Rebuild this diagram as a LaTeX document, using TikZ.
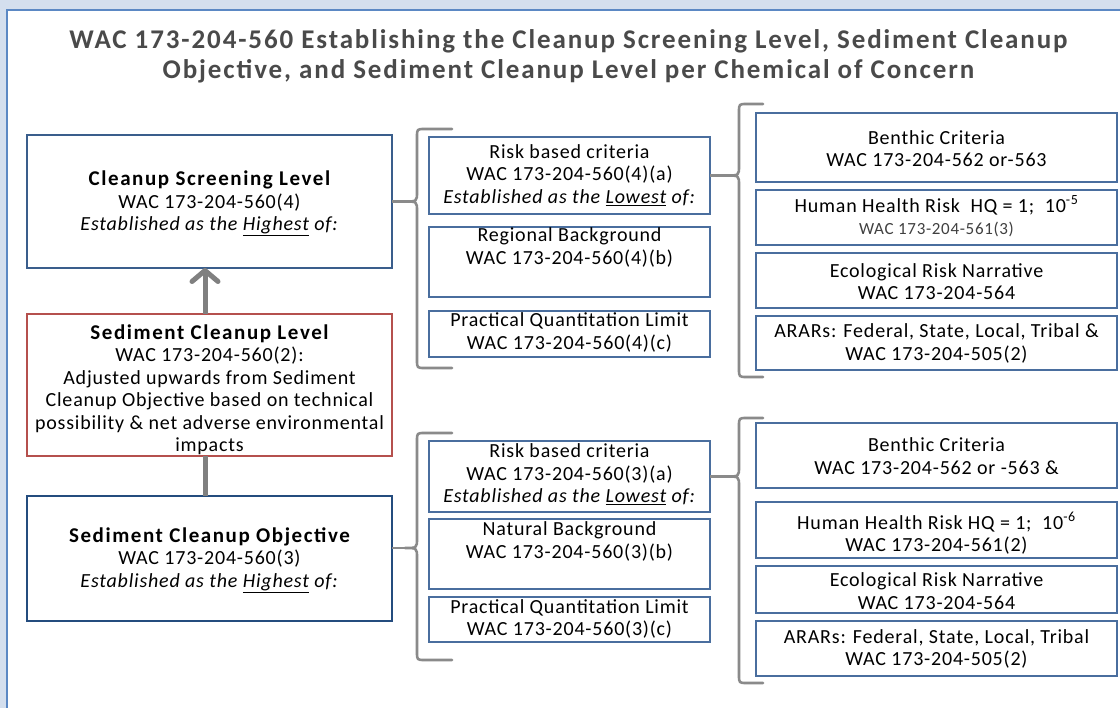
\documentclass[tikz,border=0pt]{standalone}
\usepackage{fontspec}
\setmainfont{Carlito}
\newfontfamily\bodyfont[LetterSpace=4]{Carlito}
\newfontfamily\headfont[LetterSpace=7.5]{Carlito}
\newfontfamily\titlefont[LetterSpace=7]{Carlito}
\usetikzlibrary{arrows.meta}

\definecolor{bgblue}{HTML}{D4DFEE}
\definecolor{panelblue}{HTML}{5B88C4}
\definecolor{titlegray}{HTML}{4A4A4A}
\definecolor{boxblue}{HTML}{4A6E9E}
\definecolor{cslblue}{HTML}{3A5E8C}
\definecolor{scoblue}{HTML}{244C7E}
\definecolor{sclred}{HTML}{B5504D}
\definecolor{conngray}{HTML}{808080}
\definecolor{bracegray}{HTML}{8A8A8A}
\definecolor{subgray}{HTML}{404040}

% left-opening curly bracket: #1 spine x, #2 top y, #3 bottom y, #4 tip y, #5 arm end x, #6 tip name
\newcommand\sidebrace[6]{%
  \coordinate (#6) at ({#1-12},#4);
  \draw[brace] (#5,#2) -- ({#1+8},#2) .. controls (#1,#2) .. (#1,{#2+8})
    -- (#1,{#4-10}) .. controls (#1,#4) .. (#6)
    .. controls (#1,#4) .. (#1,{#4+10})
    -- (#1,{#3-8}) .. controls (#1,#3) .. ({#1+8},#3) -- (#5,#3);
}
\newcommand\hd[1]{{\headfont\fontsize{21}{22.5}\selectfont\bfseries #1}}

\begin{document}
\begin{tikzpicture}[x=1pt,y=-1pt,
  frame/.style={draw, fill=white, inner sep=0pt, outer sep=0pt},
  midbox/.style={frame, draw=boxblue, line width=1.2pt, minimum width=281pt},
  rightbox/.style={frame, draw=boxblue, line width=1.2pt, minimum width=361pt},
  leftbox/.style={frame, line width=2pt, minimum width=365pt},
  txt/.style={align=center, inner sep=0pt, text=black, font=\bodyfont\fontsize{20}{22.5}\selectfont},
  conn/.style={draw=conngray, line width=5pt},
  brace/.style={draw=bracegray, line width=2.6pt, line cap=round, line join=round},
  tipline/.style={draw=bracegray, line width=2.6pt}]

\useasboundingbox (0,0) rectangle (1120,708);
\fill[bgblue] (0,0) rectangle (1120,708);
\draw[panelblue, line width=2pt, fill=white] (7,10) rectangle (1135,720);

% heading
\node[txt, text=titlegray, font=\titlefont\fontsize{27}{30}\selectfont\bfseries] (title) at (568.5,56)
  {WAC 173-204-560 Establishing the Cleanup Screening Level, Sediment Cleanup\\
   Objective, and Sediment Cleanup Level per Chemical of Concern};

% left column
\node[leftbox, draw=cslblue, minimum height=133pt] (csl) at (209.5,201.5) {};
\node[leftbox, draw=sclred, minimum height=142pt] (scl) at (209.5,385) {};
\node[leftbox, draw=scoblue, minimum height=125pt] (sco) at (209.5,558.5) {};

\node[txt] (csl-t) at (209.5,203.5) {\hd{Cleanup Screening Level}\\WAC 173-204-560(4)\\
  \textit{Established as the \underline{Highest} of:}};
\node[txt] (scl-t) at (209.5,389.5) {\hd{Sediment Cleanup Level}\\WAC 173-204-560(2):\\
  Adjusted upwards from Sediment\\Cleanup Objective based on technical\\
  possibility \& net adverse environmental\\impacts};
\node[txt] (sco-t) at (209.5,560) {\hd{Sediment Cleanup Objective}\\WAC 173-204-560(3)\\
  \textit{Established as the \underline{Highest} of:}};

\draw[conn, -{Straight Barb[length=11pt,width=26pt,round]}]
  ([xshift=-4.5pt]scl.north) -- ([xshift=-4.5pt]csl.south);
\draw[conn] ([xshift=-4.5pt]sco.north) -- ([xshift=-4.5pt]scl.south);

% middle column, upper group
\node[midbox, minimum height=77pt] (ra4) at (569.5,175.5) {};
\node[midbox, minimum height=70pt] (rb4) at (569.5,262) {};
\node[midbox, minimum height=46pt] (pq4) at (569.5,334) {};
\node[txt] (ra4-t) at (569.5,175) {Risk based criteria\\WAC 173-204-560(4)(a)\\
  \textit{Established as the \underline{Lowest} of:}};
\node[txt] (rb4-t) at (569.5,247.5) {Regional Background\\WAC 173-204-560(4)(b)};
\node[txt] (pq4-t) at (569.5,332.5) {Practical Quantitation Limit\\WAC 173-204-560(4)(c)};

% middle column, lower group
\node[midbox, minimum height=71pt] (ra3) at (569.5,476.5) {};
\node[midbox, minimum height=70pt] (nb3) at (569.5,554) {};
\node[midbox, minimum height=45pt] (pq3) at (569.5,619.5) {};
\node[txt] (ra3-t) at (569.5,474.5) {Risk based criteria\\WAC 173-204-560(3)(a)\\
  \textit{Established as the \underline{Lowest} of:}};
\node[txt] (nb3-t) at (569.5,541.5) {Natural Background\\WAC 173-204-560(3)(b)};
\node[txt] (pq3-t) at (569.5,619) {Practical Quantitation Limit\\WAC 173-204-560(3)(c)};

% right column, upper group
\node[rightbox, minimum height=69pt] (bc4) at (936.5,147.5) {};
\node[rightbox, minimum height=55pt] (hh4) at (936.5,217.5) {};
\node[rightbox, minimum height=55pt] (er4) at (936.5,280.5) {};
\node[rightbox, minimum height=54pt] (ar4) at (936.5,343) {};
\node[txt] (bc4-t) at (936.5,148.5) {Benthic Criteria\\WAC 173-204-562 or-563};
\node[txt] (hh4-t) at (936.5,216.5) {Human Health Risk\ \ HQ = 1;\ \ 10\textsuperscript{-5}\\
  {\fontsize{17}{22.5}\selectfont\color{subgray}WAC 173-204-561(3)}};
\node[txt] (er4-t) at (936.5,281.5) {Ecological Risk Narrative\\WAC 173-204-564};
\node[txt] (ar4-t) at (936.5,343.5) {ARARs: Federal, State, Local, Tribal \&\\WAC 173-204-505(2)};

% right column, lower group
\node[rightbox, minimum height=65pt] (bc3) at (936.5,455.5) {};
\node[rightbox, minimum height=56pt] (hh3) at (936.5,530) {};
\node[rightbox, minimum height=47pt] (er3) at (936.5,589.5) {};
\node[rightbox, minimum height=55pt] (ar3) at (936.5,648.5) {};
\node[txt] (bc3-t) at (936.5,456) {Benthic Criteria\\WAC 173-204-562 or -563 \&};
\node[txt] (hh3-t) at (936.5,533.5) {Human Health Risk HQ = 1;\ \ 10\textsuperscript{-6}\\WAC 173-204-561(2)};
\node[txt] (er3-t) at (936.5,591) {Ecological Risk Narrative\\WAC 173-204-564};
\node[txt] (ar3-t) at (936.5,649) {ARARs: Federal, State, Local, Tribal\\WAC 173-204-505(2)};

% brackets gathering each group
\sidebrace{417}{129}{368}{201.5}{452}{tipA}
\sidebrace{417}{433}{660}{548}{452}{tipB}
\sidebrace{739}{104}{377}{175.5}{763}{tipC}
\sidebrace{739}{418}{683}{476.5}{763}{tipD}

\draw[tipline] (csl.east) -- (tipA);
\draw[tipline] (sco.east |- tipB) -- (tipB);
\draw[tipline] (ra4.east) -- (tipC);
\draw[tipline] (ra3.east) -- (tipD);
\end{tikzpicture}
\end{document}
